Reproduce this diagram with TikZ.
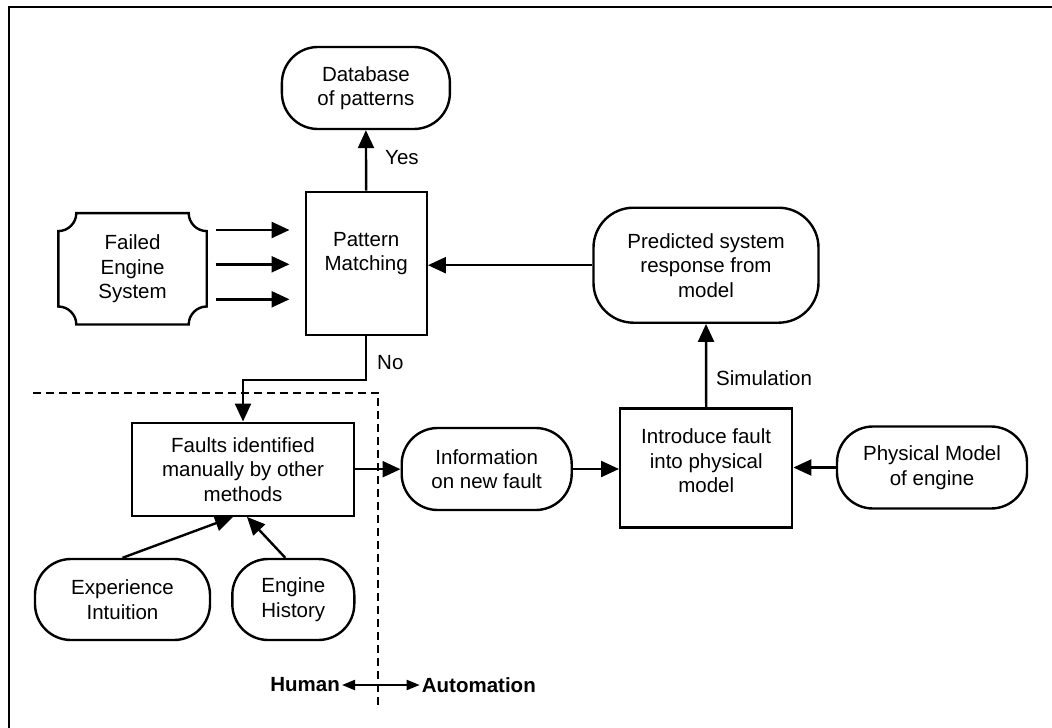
\documentclass[tikz,border=0pt]{standalone}
\usepackage{fontspec}
\setmainfont{Liberation Sans}
\usetikzlibrary{arrows.meta,calc}
\begin{document}
\begin{tikzpicture}[x=1pt,y=-1pt,
  font=\fontsize{20.5}{24.5}\selectfont,
  every node/.style={align=center, inner sep=0pt},
  blk/.style={draw, line width=2.4pt},
  term/.style={draw, line width=2.4pt, rounded corners=36pt},
  flow/.style={line width=2.4pt, -{Triangle[length=18pt 0,width=16pt 0]}},
  divider/.style={line width=2.2pt, dash pattern=on 8pt off 5pt},
  lbl/.style={anchor=west}]
  \useasboundingbox (0,0) rectangle (1052,728);
  % outer frame
  \draw[line width=2.6pt] (9,728) -- (9,7) -- (1052,7);

  % nodes
  \node[term, minimum width=168pt, minimum height=82pt] (db) at (365.9,88) {Database\\of patterns};
  \node[blk, minimum width=121pt, minimum height=143pt] (pm) at (366.2,263.4) {};
  \node at ($(pm.center)+(0,-10)$) {Pattern\\Matching};
  \node[minimum width=148pt, minimum height=111pt] (fes) at (132.5,268.8) {Failed\\Engine\\System};
  \node[term, rounded corners=40pt, minimum width=225pt, minimum height=115pt] (pred) at (706,265.2) {Predicted system\\response from\\model};
  \node[blk, minimum width=172pt, minimum height=119pt] (intro) at (706.2,467.8) {};
  \node at ($(intro.center)+(0,-7)$) {Introduce fault\\into physical\\model};
  \node[term, minimum width=190pt, minimum height=82pt] (phys) at (932,467.5) {Physical Model\\of engine};
  \node[term, minimum width=170pt, minimum height=82pt] (info) at (486.7,469) {Information\\on new fault};
  \node[blk, minimum width=222pt, minimum height=93pt] (faults) at (243,469.2) {Faults identified\\manually by other\\methods};
  \node[term, minimum width=175pt, minimum height=81pt] (exp) at (122.5,599.5) {Experience\\Intuition};
  \node[term, minimum width=122pt, minimum height=81pt] (eng) at (293.3,599.5) {Engine\\History};

  % plaque outline of the failed engine node
  \draw[line width=2.4pt]
    ($(fes.north west)+(0,18)$) .. controls +(9.9,0) and +(0,9.9) .. ($(fes.north west)+(18,0)$)
    -- ($(fes.north east)+(-18,0)$) .. controls +(0,9.9) and +(-9.9,0) .. ($(fes.north east)+(0,18)$)
    -- ($(fes.south east)+(0,-18)$) .. controls +(-9.9,0) and +(0,-9.9) .. ($(fes.south east)+(-18,0)$)
    -- ($(fes.south west)+(18,0)$) .. controls +(0,-9.9) and +(9.9,0) .. ($(fes.south west)+(0,-18)$)
    -- cycle;

  % input arrows into pattern matching
  \coordinate (in1) at (0,230);
  \coordinate (in2) at (0,264.3);
  \coordinate (in3) at (0,299.3);
  \foreach \c in {in1,in2,in3}
    \draw[flow, shorten <=9pt, shorten >=15pt] (fes.east |- \c) -- (pm.west |- \c);

  % connectors
  \draw[flow] (pm.north) -- (db.south);
  \node[lbl] (yes) at (385,158) {Yes};
  \draw[flow] (pred.west) -- (pm.east |- pred.west);
  \draw[flow] (intro.north) -- (pred.south);
  \node[lbl] (sim) at (716,378) {Simulation};
  \draw[flow] (pm.south) -- ++(0,44) -| (faults.north);
  \node[lbl] (no) at (377,363) {No};
  \draw[flow] (faults.east) -- (info.west |- faults.east);
  \draw[flow] (info.east) -- (intro.west |- info.east);
  \draw[flow] (phys.west) -- (intro.east |- phys.west);
  \draw[flow] (exp.north) -- ([xshift=-10pt]faults.south);
  \draw[flow] ([xshift=-8pt]eng.north) -- ([xshift=4pt]faults.south);

  % human / automation divide
  \draw[divider] (33,392.7) -| (378.3,706.7);
  \node[anchor=east, font=\fontsize{20.5}{24.5}\selectfont\bfseries] (human) at (340,685) {Human};
  \node[anchor=west, font=\fontsize{20.5}{24.5}\selectfont\bfseries] (auto) at (421.7,685) {Automation};
  \draw[line width=2pt, {Triangle[length=13pt 0,width=10pt 0]}-{Triangle[length=13pt 0,width=10pt 0]}, shorten <=2pt, shorten >=2pt]
    (human.east) -- (auto.west);
\end{tikzpicture}
\end{document}
